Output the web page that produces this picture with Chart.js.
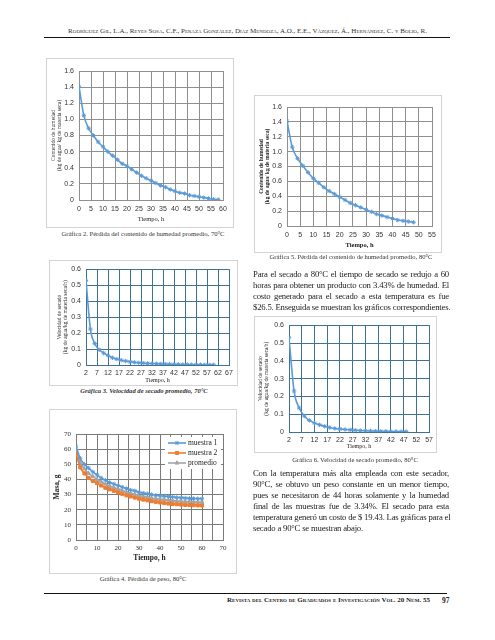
<!DOCTYPE html>
<html>
<head>
<meta charset="utf-8">
<script src="https://cdn.jsdelivr.net/npm/chart.js@4"></script>
<style>
body { margin: 0; background: #fff; }
#page { position: relative; width: 495px; height: 640px; font-family: "Liberation Serif", serif; color: #222; overflow: hidden; }
.box { position: absolute; outline: 1px solid #d4d4d4; outline-offset: -1px; }
.box canvas { position: absolute; left: 0; top: 0; }
.cap { position: absolute; font-size: 6.6px; line-height: 9px; white-space: nowrap; transform: translateX(-50%); color: #333; }
.txt { position: absolute; left: 253px; width: 196px; font-size: 8.7px; line-height: 11px; letter-spacing: -0.2px; color: #222; }
.txt div { white-space: nowrap; text-align: justify; text-align-last: justify; }
.txt div.last { text-align-last: left; }
.rule { position: absolute; left: 44px; height: 1.3px; background: #111; }
</style>
</head>
<body>
<div id="page">
  <div style="position:absolute;left:0;top:27px;width:495px;text-align:center;font-size:7px;line-height:9px;font-variant:small-caps;color:#333">Rodríguez Gil, L.A., Reyes Sosa, C.F., Peraza González, Díaz Mendoza, A.O., E.E., Vázquez, Á., Hernández, C. y Bolio, R.</div>
  <div class="rule" style="top:37px;width:406px"></div>

  <div class="box" style="left:46px;top:58px;width:188px;height:170px"><canvas id="c2" width="188" height="170"></canvas></div>
  <div class="cap" style="left:143px;top:229px">Gráfica 2. Pérdida del contenido de humedad promedio, 70°C</div>

  <div class="box" style="left:254px;top:95px;width:188px;height:158px"><canvas id="c5" width="188" height="158"></canvas></div>
  <div class="cap" style="left:351px;top:252px">Gráfica 5. Pérdida del contenido de humedad promedio, 80°C</div>

  <div class="box" style="left:49px;top:260px;width:189px;height:126px"><canvas id="c3" width="189" height="126"></canvas></div>
  <div class="cap" style="left:144px;top:386px;font-weight:bold;font-style:italic">Gráfica 3. Velocidad de secado promedio, 70°C</div>

  <div class="txt" style="top:269px">
    <div>Para el secado a 80°C el tiempo de secado se redujo a 60</div>
    <div>horas para obtener un producto con 3.43% de humedad. El</div>
    <div>costo generado para el secado a esta temperatura es fue</div>
    <div class="last">$26.5. Enseguida se muestran los gráficos correspondientes.</div>
  </div>

  <div class="box" style="left:254px;top:316px;width:183px;height:137px"><canvas id="c6" width="183" height="137"></canvas></div>
  <div class="cap" style="left:355px;top:455px">Gráfica 6. Velocidad de secado promedio, 80°C</div>

  <div class="box" style="left:49px;top:409px;width:188px;height:165px"><canvas id="c4" width="188" height="165"></canvas></div>
  <div class="cap" style="left:143px;top:574px">Gráfica 4. Pérdida de peso, 80°C</div>

  <div class="txt" style="top:468px">
    <div>Con la temperatura más alta empleada con este secador,</div>
    <div>90°C, se obtuvo un peso constante en un menor tiempo,</div>
    <div>pues se necesitaron de 44 horas solamente y la humedad</div>
    <div>final de las muestras fue de 3.34%. El secado para esta</div>
    <div>temperatura generó un costo de $ 19.43. Las gráficas para el</div>
    <div class="last">secado a 90°C se muestran abajo.</div>
  </div>

  <div class="rule" style="top:593px;width:403px"></div>
  <div style="position:absolute;left:227px;top:596px;font-size:7px;line-height:9px;font-weight:bold;font-variant:small-caps;white-space:nowrap">Revista del Centro de Graduados e Investigación Vol. 20 Núm. 55</div>
  <div style="position:absolute;left:442px;top:596px;font-size:7.5px;line-height:9px;font-weight:bold">97</div>
</div>

<script>
// humidity content, 70 and 80 C
const hours70 = [0, 2, 4, 6, 8, 10, 12, 14, 16, 18, 20, 22, 24, 26, 28, 30, 32, 34, 36, 38, 40, 42, 44, 46, 48, 50, 52, 54, 56, 58];
const humedad70 = [1.41, 1.05, 0.89, 0.80, 0.72, 0.66, 0.60, 0.55, 0.50, 0.45, 0.42, 0.38, 0.34, 0.30, 0.27, 0.24, 0.21, 0.18, 0.16, 0.13, 0.11, 0.09, 0.08, 0.06, 0.05, 0.04, 0.03, 0.02, 0.01, 0.005];
const hours80 = [0, 2, 4, 6, 8, 10, 12, 14, 16, 18, 20, 22, 24, 26, 28, 30, 32, 34, 36, 38, 40, 42, 44, 46, 48];
const humedad80 = [1.41, 1.06, 0.91, 0.81, 0.72, 0.64, 0.58, 0.52, 0.47, 0.43, 0.39, 0.35, 0.31, 0.28, 0.25, 0.22, 0.19, 0.16, 0.14, 0.12, 0.10, 0.08, 0.07, 0.06, 0.05];

// drying rate
const velHours70 = [2, 4, 6, 8, 10, 12, 14, 16, 18, 20, 22, 24, 26, 28, 30, 32, 34, 36, 38, 40, 42, 44, 46, 48, 50, 52, 54, 56, 58, 60];
const velocidad70 = [0.53, 0.225, 0.135, 0.095, 0.075, 0.06, 0.045, 0.037, 0.03, 0.025, 0.02, 0.017, 0.014, 0.012, 0.01, 0.009, 0.008, 0.007, 0.006, 0.005, 0.004, 0.004, 0.003, 0.003, 0.002, 0.002, 0.002, 0.001, 0.001, 0.001];
const velHours80 = [2, 4, 6, 8, 10, 12, 14, 16, 18, 20, 22, 24, 26, 28, 30, 32, 34, 36, 38, 40, 42, 44, 46, 48];
const velocidad80 = [0.53, 0.23, 0.135, 0.09, 0.065, 0.05, 0.04, 0.032, 0.025, 0.02, 0.017, 0.014, 0.012, 0.01, 0.008, 0.007, 0.006, 0.005, 0.004, 0.004, 0.003, 0.003, 0.002, 0.002];
const velTicks70 = [2, 7, 12, 17, 22, 27, 32, 37, 42, 47, 52, 57, 62, 67];
const velTicks80 = [2, 7, 12, 17, 22, 27, 32, 37, 42, 47, 52, 57];

// mass loss
const masaHours = [0, 2, 4, 6, 8, 10, 12, 14, 16, 18, 20, 22, 24, 26, 28, 30, 32, 34, 36, 38, 40, 42, 44, 46, 48, 50, 52, 54, 56, 58, 60];
const muestra1 = [62, 54, 50, 47.5, 45, 43, 41, 39.5, 38, 37, 36, 35, 34, 33, 32.5, 31.5, 31, 30.5, 30, 29.5, 29.2, 29, 28.7, 28.4, 28.1, 27.9, 27.7, 27.5, 27.4, 27.3, 27.2];
const muestra2 = [57, 48, 44, 41, 39, 37.5, 36, 34.5, 33.5, 32.5, 31.5, 30.5, 29.5, 28.8, 28, 27.3, 26.7, 26.2, 25.7, 25.2, 24.8, 24.4, 24.1, 23.8, 23.6, 23.4, 23.2, 23.1, 23, 22.9, 22.8];
const promedio = [59.5, 51, 47, 44, 42, 40, 38.5, 37, 35.7, 34.7, 33.7, 32.7, 31.7, 30.9, 30.2, 29.4, 28.8, 28.3, 27.8, 27.3, 27, 26.7, 26.4, 26.1, 25.8, 25.6, 25.4, 25.3, 25.2, 25.1, 25];
const masaLabels = ['muestra 1', 'muestra 2', 'promedio'];

const BLUE = '#5b9bd5';
const sans = 'Liberation Sans';
const serif = 'Liberation Serif';

function pts(xs, ys) {
    return xs.map((x, i) => ({ x: x, y: ys[i] }));
}

function series(label, xs, ys, color, style) {
    return {
        label: label,
        data: pts(xs, ys),
        borderColor: color,
        backgroundColor: color,
        borderWidth: 1.6,
        pointStyle: style,
        pointRadius: 2.2,
        pointBorderWidth: 1,
        cubicInterpolationMode: 'monotone'
    };
}

// builds one small excel-like chart, s = sizes of that panel
function makeChart(id, datasets, s, plugins) {
    return new Chart(document.getElementById(id), {
        type: 'line',
        data: { datasets: datasets },
        plugins: plugins || [],
        options: {
            responsive: false,
            animation: false,
            layout: { padding: { left: 0, right: s.right, top: s.top, bottom: 0 } },
            plugins: { legend: { display: false }, tooltip: { enabled: false } },
            scales: {
                x: {
                    type: 'linear',
                    min: s.xMin, max: s.xMax,
                    afterBuildTicks: s.xTicks ? (sc => { sc.ticks = s.xTicks.map(v => ({ value: v })); }) : undefined,
                    ticks: {
                        stepSize: s.xStep, autoSkip: false, maxRotation: 0, padding: s.xPad,
                        color: '#333', font: { family: s.tickFont, size: 7 },
                        callback: s.xLabel || (v => v)
                    },
                    grid: { color: s.grid, drawTicks: false },
                    border: { color: s.grid },
                    title: {
                        display: true, text: 'Tiempo, h', color: '#222',
                        font: { family: serif, size: s.xTitleSize, weight: s.bold ? 'bold' : 'normal' },
                        padding: { top: 0, bottom: s.xTitlePad }
                    },
                    afterFit: sc => { sc.height = s.xHeight; }
                },
                y: {
                    min: 0, max: s.yMax,
                    ticks: { stepSize: s.yStep, padding: 5, color: '#333', font: { family: s.tickFont, size: 7 } },
                    grid: { color: s.grid, drawTicks: false },
                    border: { color: s.grid },
                    title: {
                        display: true, text: s.yTitle, color: '#222',
                        font: { family: serif, size: s.yTitleSize, weight: s.bold ? 'bold' : 'normal' },
                        padding: { top: s.yTitlePad, bottom: 0 }
                    },
                    afterFit: sc => { sc.width = s.yWidth; }
                }
            }
        }
    });
}

const humTitle = ['Contenido de humedad', '(kg de agua/ kg de materia seca)'];
const velTitle = ['Velocidad de secado', '(kg de agua/kg de materia seca/h)'];

makeChart('c2', [series('70', hours70, humedad70, BLUE, 'star')], {
    right: 11, top: 13, xMin: 0, xMax: 60, xStep: 5, xPad: 5, xHeight: 28, xTitleSize: 6.5, xTitlePad: 5,
    yMax: 1.6, yStep: 0.2, yWidth: 33, yTitle: humTitle, yTitleSize: 5.5, yTitlePad: 4,
    grid: '#8f8f8f', tickFont: sans, bold: false
});

makeChart('c5', [series('80', hours80, humedad80, BLUE, 'star')], {
    right: 10, top: 12, xMin: 0, xMax: 55, xStep: 5, xPad: 5, xHeight: 27, xTitleSize: 6.5, xTitlePad: 4,
    yMax: 1.6, yStep: 0.2, yWidth: 33, yTitle: humTitle, yTitleSize: 5.5, yTitlePad: 4,
    grid: '#8f8f8f', tickFont: sans, bold: true
});

makeChart('c3', [series('70', velHours70, velocidad70, BLUE, 'star')], {
    right: 9, top: 7, xMin: 2, xMax: 67, xTicks: velTicks70, xPad: 4, xHeight: 21, xTitleSize: 6, xTitlePad: 1.5,
    yMax: 0.6, yStep: 0.1, yWidth: 37, yTitle: velTitle, yTitleSize: 5.5, yTitlePad: 7,
    grid: '#3f7196', tickFont: sans, bold: false
});

makeChart('c6', [series('80', velHours80, velocidad80, BLUE, 'star')], {
    right: 5, top: 8, xMin: 2, xMax: 57, xTicks: velTicks80, xPad: 4, xHeight: 21, xTitleSize: 6, xTitlePad: 2.5,
    yMax: 0.6, yStep: 0.1, yWidth: 35, yTitle: velTitle, yTitleSize: 5.5, yTitlePad: 3,
    grid: '#3f7196', tickFont: sans, bold: false
});

// legend drawn inside the plot, top right, like the excel one
const masaLegend = {
    id: 'masaLegend',
    afterDatasetsDraw(chart) {
        const ctx = chart.ctx;
        ctx.save();
        ctx.fillStyle = '#fff';
        ctx.fillRect(116, 28, 56, 32);
        chart.data.datasets.forEach((ds, i) => {
            const y = 34 + i * 10;
            ctx.strokeStyle = ds.borderColor;
            ctx.fillStyle = ds.borderColor;
            ctx.lineWidth = 1.6;
            ctx.beginPath();
            ctx.moveTo(119, y);
            ctx.lineTo(137, y);
            ctx.stroke();
            ctx.lineWidth = 1;
            Chart.helpers.drawPoint(ctx, { pointStyle: ds.pointStyle, radius: 2.2, rotation: 0, borderWidth: 1 }, 128, y);
            ctx.fillStyle = '#222';
            ctx.font = '7.5px "Liberation Serif"';
            ctx.textBaseline = 'middle';
            ctx.fillText(ds.label, 139, y);
        });
        ctx.restore();
    }
};

makeChart('c4', [
    series(masaLabels[0], masaHours, muestra1, BLUE, 'star'),
    series(masaLabels[1], masaHours, muestra2, '#ed7d31', 'rect'),
    series(masaLabels[2], masaHours, promedio, '#a5a5a5', 'triangle')
], {
    right: 14, top: 25, xMin: 0, xMax: 70, xStep: 5, xPad: 4, xHeight: 34, xTitleSize: 7.5, xTitlePad: 11.5,
    xLabel: v => (v % 10 === 0 ? v : ''),
    yMax: 70, yStep: 10, yWidth: 27, yTitle: 'Masa, g', yTitleSize: 7.5, yTitlePad: 3.5,
    grid: '#7a7a7a', tickFont: serif, bold: true
}, [masaLegend]);
</script>
</body>
</html>
